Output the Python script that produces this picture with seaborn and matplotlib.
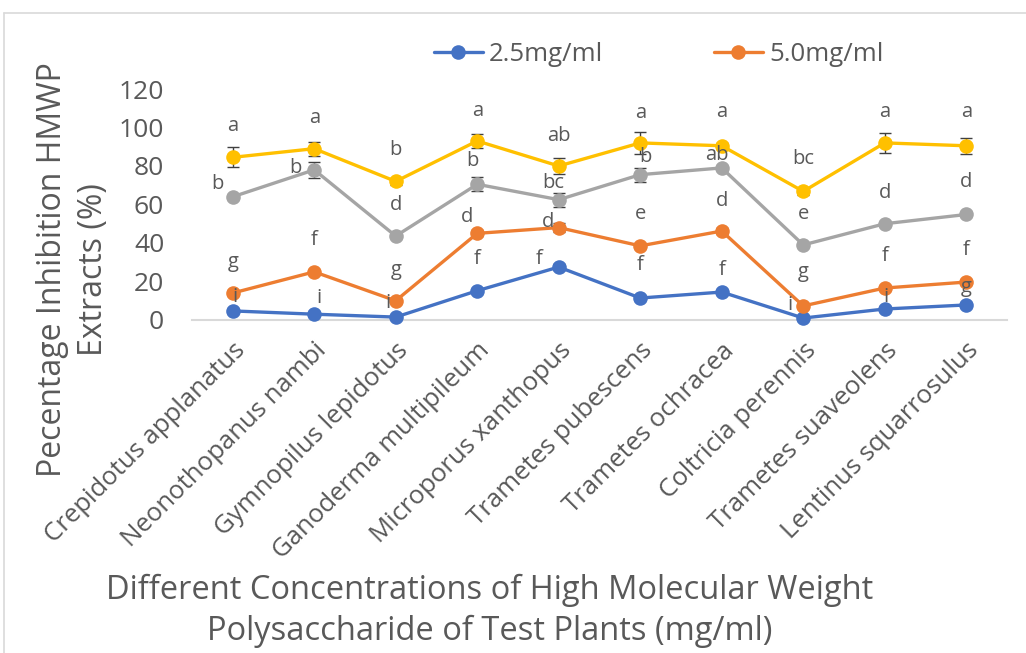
import matplotlib
matplotlib.use("Agg")
import matplotlib.pyplot as plt
import seaborn as sns
import pandas as pd
import numpy as np
from matplotlib.lines import Line2D

# ---------------- data ----------------
plants = ["Crepidotus applanatus", "Neonothopanus nambi", "Gymnopilus lepidotus",
          "Ganoderma multipileum", "Microporus xanthopus", "Trametes pubescens",
          "Trametes ochracea", "Coltricia perennis", "Trametes suaveolens",
          "Lentinus squarrosulus"]
series_names = ["2.5mg/ml", "5.0mg/ml", "7.5mg/ml", "10.0mg/ml"]
conc_2_5 = [4.7, 3.0, 1.5, 15.2, 27.5, 11.4, 14.5, 1.0, 5.7, 7.8]
conc_5_0 = [14.0, 25.0, 10.0, 45.0, 48.0, 38.5, 46.2, 7.3, 16.6, 19.7]
conc_7_5 = [64.0, 78.0, 43.6, 70.5, 62.5, 75.5, 79.0, 39.0, 50.0, 54.8]
conc_10 = [84.5, 89.0, 72.0, 93.0, 80.0, 92.0, 90.5, 66.8, 92.0, 90.5]
err_2_5 = [1.0, 1.0, 0.8, 1.0, 1.5, 1.0, 1.0, 0.5, 1.0, 1.0]
err_5_0 = [1.0, 1.0, 1.0, 1.5, 2.5, 1.0, 1.5, 1.0, 1.0, 1.0]
err_7_5 = [1.0, 4.0, 1.0, 3.6, 3.6, 3.6, 1.0, 1.0, 1.0, 1.0]
err_10 = [5.2, 3.6, 2.0, 3.6, 4.4, 5.6, 1.5, 2.0, 5.2, 4.2]
letters_2_5 = ["i", "i", "i", "f", "f", "f", "f", "i", "i", "g"]
letters_5_0 = ["g", "f", "g", "d", "d", "e", "d", "g", "f", "f"]
letters_7_5 = ["b", "b", "d", "b", "bc", "b", "ab", "e", "d", "d"]
letters_10 = ["a", "a", "b", "a", "ab", "a", "a", "bc", "a", "a"]
y_ticks = [0, 20, 40, 60, 80, 100, 120]

values = [conc_2_5, conc_5_0, conc_7_5, conc_10]
errors = [err_2_5, err_5_0, err_7_5, err_10]
letters = [letters_2_5, letters_5_0, letters_7_5, letters_10]

df = pd.DataFrame({
    "plant": plants * 4,
    "conc": np.repeat(series_names, len(plants)),
    "value": np.concatenate(values),
})

# ---------------- style ----------------
colors = ["#4472C4", "#ED7D31", "#A5A5A5", "#FFC000"]
txt = "#595959"
FONT = "Open Sans"

# label offsets in pixels (dx, dy up)
label_off = [
    [(2, 14), (5, 16), (-8, 14), (0, 32), (-20, 8), (0, 33), (0, 22), (-13, 13), (1, 12), (0, 18)],
    [(0, 31), (0, 32), (0, 31), (-10, 16), (-11, 6), (0, 32), (0, 30), (0, 34), (0, 32), (0, 32)],
    [(-15, 13), (-19, 2), (0, 31), (-5, 23), (-5, 17), (5, 18), (-5, 13), (0, 31), (0, 31), (0, 32)],
    [(0, 31), (0, 31), (0, 31), (0, 30), (0, 30), (0, 30), (0, 34), (0, 32), (0, 31), (0, 34)],
]

sns.set_theme(style="white")
plt.rcParams["font.family"] = [FONT, "DejaVu Sans"]

fig = plt.figure(figsize=(10.26, 6.53), dpi=100)
ax = fig.add_axes([0.1871, 0.5100, 0.7944, 0.3537])

sns.lineplot(data=df, x="plant", y="value", hue="conc", hue_order=series_names,
             palette=colors, marker="o", markersize=10.5, markeredgewidth=0,
             linewidth=2.4, sort=False, ax=ax, legend=False, zorder=3)
for line in ax.lines:
    line.set_clip_on(False)

xpos = np.arange(len(plants))
for vals, errs in zip(values, errors):
    ax.errorbar(xpos, vals, yerr=errs, fmt="none", ecolor="#404040",
                elinewidth=1.0, capsize=4.3, capthick=1.0, zorder=2, clip_on=False)

for vals, labs, offs in zip(values, letters, label_off):
    for i, (v, l, (dx, dy)) in enumerate(zip(vals, labs, offs)):
        ax.annotate(l, (i, v), xytext=(dx, dy), textcoords="offset pixels",
                    ha="center", va="center", fontsize=14.5, color=txt, zorder=5,
                    annotation_clip=False)

ax.set_xlim(-0.5, len(plants) - 0.5)
ax.set_ylim(0, 120)
ax.set_yticks(y_ticks)
ax.set_xticks(xpos)
ax.set_xticklabels(plants, rotation=45, ha="right", rotation_mode="anchor")
ax.tick_params(axis="y", labelsize=19, labelcolor=txt, length=0, pad=20)
ax.tick_params(axis="x", labelsize=18.5, labelcolor=txt, length=0, pad=13)
ax.set_xlabel("")
ax.set_ylabel("")
for s in ["left", "right", "top"]:
    ax.spines[s].set_visible(False)
ax.spines["bottom"].set_color("#D9D9D9")
ax.spines["bottom"].set_linewidth(1.5)
ax.grid(False)

handles = [Line2D([0], [0], color=c, lw=2.4, marker="o", markersize=10.5,
                  markeredgewidth=0) for c in colors[:2]]
fig.legend(handles, series_names[:2], loc="center", bbox_to_anchor=(0.642, 0.916),
           ncol=2, frameon=False, fontsize=18.5, labelcolor=txt, handlelength=1.9,
           handletextpad=0.25, columnspacing=4.3)

fig.text(0.4776, 0.0650,
         "Different Concentrations of High Molecular Weight\nPolysaccharide of Test Plants (mg/ml)",
         ha="center", va="center", fontsize=23.5, color=txt, linespacing=1.3)
fig.text(0.0712, 0.5865, "Pecentage Inhibition HMWP\nExtracts (%)",
         ha="center", va="center", rotation=90, fontsize=23, color=txt, linespacing=1.35)

# outer chart border
fig.add_artist(Line2D([4 / 1026, 1.0], [1 - 13 / 653, 1 - 13 / 653], color="#D9D9D9", lw=1.2,
                      transform=fig.transFigure))
fig.add_artist(Line2D([4 / 1026, 4 / 1026], [0, 1 - 13 / 653], color="#D9D9D9", lw=1.2,
                      transform=fig.transFigure))

fig.savefig("out.png", dpi=100)
